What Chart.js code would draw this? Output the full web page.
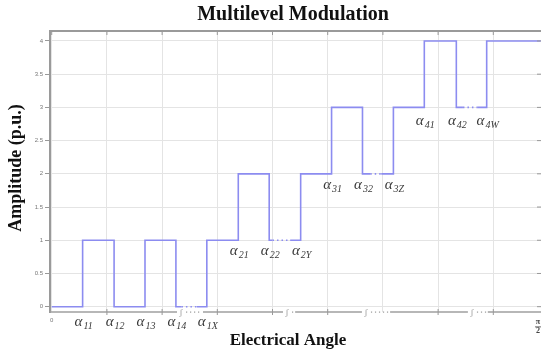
<!DOCTYPE html>
<html><head><meta charset="utf-8">
<script src="https://cdn.jsdelivr.net/npm/chart.js@4.4.0/dist/chart.umd.min.js"></script>
<style>html,body{margin:0;padding:0;background:#fff}</style>
</head><body>
<canvas id="chartMLM" width="543" height="352"></canvas>
<script>
// switching edges of the staircase (x in grid units, 0 .. pi/2)
const edgeX=[0,0.56,1.13,1.69,2.25,2.81,3.38,3.94,4.51,5.07,5.63,6.19,6.75,7.33,7.88,8.86]
const edgeLevel=[0,1,0,1,0,1,2,1,2,3,2,3,4,3,4,4]
// dotted "..." parts of the wave
const dotFrom=[2.35,4.0,5.77,7.45]
const dotTo=[2.63,4.32,5.97,7.72]
// alpha annotations
const alphaSub=['11','12','13','14','1X','21','22','2Y','31','32','3Z','41','42','4W']
const alphaX=[0.56,1.13,1.69,2.25,2.81,3.38,3.94,4.51,5.07,5.63,6.19,6.75,7.33,7.88]
const alphaY=[-0.23,-0.23,-0.23,-0.23,-0.23,0.84,0.84,0.84,1.83,1.83,1.83,2.79,2.79,2.79]
// breaks in the bottom axis
const axisBreakFrom=[2.27,4.19,5.62,7.54]
const axisBreakTo=[2.74,4.41,6.13,7.9]

function levelAt(x){
 let l=edgeLevel[0]
 edgeX.forEach((e,i)=>{ if(e<=x) l=edgeLevel[i] })
 return l
}
let wavePts=edgeX.map((x,i)=>({x:x,y:edgeLevel[i]}))
dotFrom.forEach((x,i)=>{
 wavePts.push({x:x,y:levelAt(x)})
 wavePts.push({x:dotTo[i],y:levelAt(dotTo[i])})
})
wavePts.sort((a,b)=>a.x-b.x)

const frameBitsPlugin={
 id:'frameBits',
 afterDraw(chart){
  const {ctx,chartArea:a,scales:{x,y}}=chart
  ctx.save()
  // top frame
  ctx.strokeStyle='#9a9a9a'; ctx.lineWidth=2
  ctx.beginPath(); ctx.moveTo(a.left-1,a.top); ctx.lineTo(a.right,a.top); ctx.stroke()
  // bottom axis, broken
  ctx.lineWidth=1.3; ctx.strokeStyle='#a0a0a0'
  let start=a.left
  ctx.beginPath()
  axisBreakFrom.forEach((b,i)=>{
   ctx.moveTo(start,a.bottom); ctx.lineTo(x.getPixelForValue(b),a.bottom)
   start=x.getPixelForValue(axisBreakTo[i])
  })
  ctx.moveTo(start,a.bottom); ctx.lineTo(a.right,a.bottom); ctx.stroke()
  ctx.fillStyle='#999'
  ctx.font='9px "Liberation Serif"'; ctx.textAlign='center'; ctx.textBaseline='middle'
  axisBreakFrom.forEach((b,i)=>{
   const p0=x.getPixelForValue(b), p1=x.getPixelForValue(axisBreakTo[i])
   ctx.fillText('ʃ',p0+4,a.bottom+1)
   for(let d=p0+9;d<p1-2;d+=4){ ctx.fillRect(d,a.bottom-0.5,1.2,1.2) }
  })
  // tick marks: top, bottom, right
  ctx.strokeStyle='#999'; ctx.lineWidth=1
  ctx.beginPath()
  x.ticks.forEach(t=>{
   const px=x.getPixelForValue(t.value)
   ctx.moveTo(px,a.top); ctx.lineTo(px,a.top+4)
   const broken=axisBreakFrom.some((b,i)=>t.value>b&&t.value<axisBreakTo[i])
   if(!broken && t.value>0){ ctx.moveTo(px,a.bottom-3); ctx.lineTo(px,a.bottom+3) }
  })
  y.ticks.forEach(t=>{
   const py=y.getPixelForValue(t.value)
   ctx.moveTo(a.right-4,py); ctx.lineTo(a.right,py)
  })
  ctx.stroke()
  // x tick texts
  ctx.fillStyle='#777'; ctx.font='6px "Liberation Sans"'
  ctx.fillText('0',x.getPixelForValue(0),a.bottom+8)
  ctx.font='bold 8px "Liberation Serif"'; ctx.fillStyle='#444'
  const pr=a.right-3
  ctx.fillText('π',pr,a.bottom+10)
  ctx.fillRect(pr-3,a.bottom+14.5,6,0.8)
  ctx.fillText('2',pr,a.bottom+19)
  // alpha labels
  alphaSub.forEach((s,i)=>{
   ctx.font='italic 15px "Liberation Serif"'
   const wa=ctx.measureText('α').width
   ctx.font='italic 10px "Liberation Serif"'
   const ws=ctx.measureText(s).width
   const cx=x.getPixelForValue(alphaX[i])+1, cy=y.getPixelForValue(alphaY[i])
   const x0=cx-(wa+ws+1)/2
   ctx.fillStyle='#3a3a3a'; ctx.textAlign='left'
   ctx.font='italic 15px "Liberation Serif"'
   ctx.fillText('α',x0,cy)
   ctx.font='italic 10px "Liberation Serif"'
   ctx.fillText(s,x0+wa+1,cy+4)
  })
  // titles
  ctx.fillStyle='#111'; ctx.textAlign='center'
  ctx.font='bold 20px "Liberation Serif"'
  ctx.fillText('Multilevel Modulation',293,15)
  ctx.font='bold 17px "Liberation Serif"'
  ctx.fillText('Electrical Angle',288,341)
  ctx.font='bold 18px "Liberation Serif"'
  ctx.translate(16,168); ctx.rotate(-Math.PI/2)
  ctx.fillText('Amplitude (p.u.)',0,0)
  ctx.restore()
 }
}

let chartMLM=new Chart(document.getElementById('chartMLM'),{
 type:'line',
 data:{
  datasets:[{
   data:wavePts,
   stepped:'before',
   borderColor:'#8c8cf0',
   borderWidth:1.6,
   pointRadius:0,
   fill:false,
   segment:{
    borderDash:ctx=>dotFrom.includes(wavePts[ctx.p0DataIndex].x)?[1.5,3]:undefined
   }
  }]
 },
 options:{
  responsive:false,
  animation:false,
  layout:{padding:{top:31,right:2,left:0,bottom:0}},
  plugins:{legend:{display:false},tooltip:{enabled:false},title:{display:false}},
  scales:{
   x:{
    type:'linear',min:-0.031,max:8.864,
    ticks:{display:false,stepSize:1,includeBounds:false},
    grid:{color:'#e4e4e4',drawTicks:false},
    border:{display:false},
    afterFit:s=>{s.height=40}
   },
   y:{
    min:-0.08,max:4.15,
    ticks:{stepSize:0.5,includeBounds:false,color:'#777',font:{size:6,family:'Liberation Sans'},padding:2,
     callback:v=>String(Math.round(v*10)/10)},
    grid:{color:'#e4e4e4',tickLength:5,tickColor:'#999'},
    border:{display:true,color:'#9a9a9a',width:2},
    afterFit:s=>{s.width=50}
   }
  }
 },
 plugins:[frameBitsPlugin]
})
</script>
</body></html>
